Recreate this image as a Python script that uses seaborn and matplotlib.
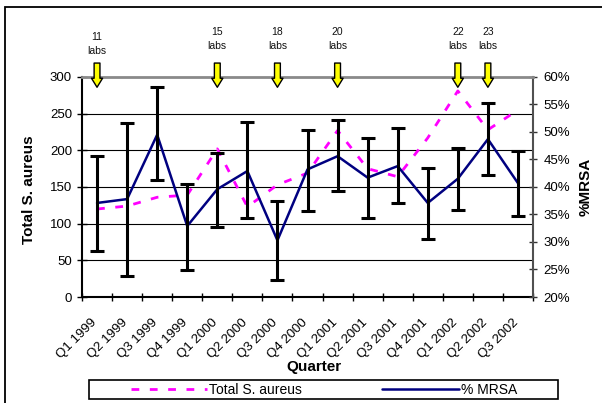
import numpy as np
import pandas as pd
import matplotlib
matplotlib.use("Agg")
import matplotlib.pyplot as plt
import matplotlib.transforms as mtransforms
from matplotlib.patches import Rectangle
from matplotlib.ticker import FixedLocator, FuncFormatter
import seaborn as sns

# ---------------- data ----------------
quarters = ["Q1 1999", "Q2 1999", "Q3 1999", "Q4 1999",
            "Q1 2000", "Q2 2000", "Q3 2000", "Q4 2000",
            "Q1 2001", "Q2 2001", "Q3 2001", "Q4 2001",
            "Q1 2002", "Q2 2002", "Q3 2002"]
total_s_aureus = [120, 124, 136, 139, 202, 123, 153, 169,
                  227, 175, 164, 217, 281, 228, 255]
pct_mrsa = [37.1, 37.8, 49.5, 32.9, 39.6, 42.9, 30.3, 43.2,
            45.6, 41.7, 43.8, 37.1, 41.5, 48.7, 40.7]
mrsa_ci_low = [28.4, 23.8, 41.3, 24.9, 32.7, 34.3, 23.0, 35.6,
               39.2, 34.4, 37.0, 30.5, 35.8, 42.2, 34.7]
mrsa_ci_high = [45.6, 51.7, 58.1, 40.5, 46.1, 51.8, 37.4, 50.4,
                52.1, 48.9, 50.7, 43.4, 47.1, 55.2, 46.6]
arrow_quarters = ["Q1 1999", "Q1 2000", "Q3 2000", "Q1 2001", "Q1 2002", "Q2 2002"]
lab_counts = [11, 15, 18, 20, 22, 23]
left_ticks = [0, 50, 100, 150, 200, 250, 300]
right_ticks = [20, 25, 30, 35, 40, 45, 50, 55, 60]

# ---------------- style ----------------
sns.set_theme(style="white")
plt.rcParams['font.family'] = ['Liberation Sans', 'DejaVu Sans']

W, H = 602, 403
fig = plt.figure(figsize=(W / 100, H / 100), dpi=100, facecolor="white")
ax = fig.add_axes([82 / W, 1 - 297 / H, (533 - 82) / W, (297 - 77) / H])
ax2 = ax.twinx()

df = pd.DataFrame({
    "pos": np.arange(len(quarters)),
    "quarter": quarters,
    "total": total_s_aureus,
    "mrsa": pct_mrsa,
    "lo": mrsa_ci_low,
    "hi": mrsa_ci_high,
})

sns.lineplot(data=df, x="pos", y="total", ax=ax, color="#FF00FF",
             linewidth=2.0, linestyle=(0, (2.8, 3.8)), legend=False)
sns.lineplot(data=df, x="pos", y="mrsa", ax=ax2, color="#000080",
             linewidth=1.8, legend=False, zorder=2)
ax2.errorbar(df["pos"], df["mrsa"],
             yerr=[df["mrsa"] - df["lo"], df["hi"] - df["mrsa"]],
             fmt="none", ecolor="black", elinewidth=2.2, capsize=4.8,
             capthick=2.2, zorder=3)

# ---------------- axes ----------------
n = len(quarters)
ax.set_xlim(-0.5, n - 0.5)
ax.set_ylim(0, 300)
ax2.set_ylim(20, 60)

ax.set_yticks(left_ticks)
ax2.set_yticks(right_ticks)
ax2.yaxis.set_major_formatter(FuncFormatter(lambda v, p: f"{v:.0f}%"))

ax.set_xticks(df["pos"])
ax.set_xticklabels(quarters, rotation=45, ha="right", va="top",
                   rotation_mode="anchor", fontsize=9.5, color="black")
ax.xaxis.set_minor_locator(FixedLocator(np.arange(-0.5, n, 1.0)))
ax.tick_params(axis="x", which="major", length=0, pad=14, bottom=True)
ax.tick_params(axis="x", which="minor", direction="inout", length=6,
               width=1, color="black", bottom=True)
for lbl in ax.get_xticklabels():
    lbl.set_transform(lbl.get_transform() +
                      mtransforms.ScaledTranslation(-6 / 100, 0, fig.dpi_scale_trans))

ax.tick_params(axis="y", direction="inout", length=7, width=1, color="black",
               left=True, labelsize=9.5, labelcolor="black", pad=3.7)
ax2.tick_params(axis="y", direction="inout", length=6, width=1, color="#333333",
                right=True, labelsize=9.5, labelcolor="black", pad=4.4)

ax.yaxis.grid(True, color="black", linewidth=0.8)
ax.xaxis.grid(False)
ax2.grid(False)
ax.set_axisbelow(True)
# the top boundary (300) is drawn by the grey frame line, not a gridline
ax.yaxis.get_gridlines()[-1].set_visible(False)

for s in ["top", "right"]:
    ax.spines[s].set_visible(False)
for s in ["left", "bottom"]:
    ax.spines[s].set_color("black")
    ax.spines[s].set_linewidth(1.5)
    ax2.spines[s].set_visible(False)
ax2.spines["top"].set_color("#8a8a8a")
ax2.spines["top"].set_linewidth(2)
ax2.spines["right"].set_color("#505050")
ax2.spines["right"].set_linewidth(1.5)

ax.set_ylabel("Total S. aureus", fontsize=11, fontweight="bold", color="black")
ax.yaxis.label.set_verticalalignment("center")
ax.yaxis.set_label_coords((29 - 82) / 451, 0.49)
ax2.set_ylabel("%MRSA", fontsize=11, fontweight="bold", color="black")
ax2.yaxis.label.set_verticalalignment("center")
ax2.yaxis.set_label_coords((586 - 82) / 451, 0.5)
ax.set_xlabel("Quarter", fontsize=11, fontweight="bold", color="black")
ax.xaxis.label.set_verticalalignment("center")
ax.xaxis.set_label_coords((314 - 82) / 451, (297 - 367) / 220)

# ---------------- arrows with lab counts ----------------
label_y = [329, 336, 336, 336, 336, 336]
for q, cnt, ly in zip(arrow_quarters, lab_counts, label_y):
    i = quarters.index(q)
    ax2.annotate("", xy=(i, 286), xytext=(i, 319), xycoords=ax.transData,
                 textcoords=ax.transData, annotation_clip=False, zorder=6,
                 arrowprops=dict(arrowstyle="simple,head_length=0.65,head_width=0.8,tail_width=0.42",
                                 mutation_scale=10, fc="#FFFF00", ec="black", lw=1,
                                 shrinkA=0, shrinkB=0))
    ax2.text(i, ly, f"{cnt}\nlabs", transform=ax.transData, ha="center", va="bottom",
             fontsize=7.5, linespacing=1.45, color="#111111", clip_on=False)

# ---------------- legend ----------------
fig.add_artist(Rectangle((89 / W, 1 - 399 / H), (558 - 89) / W, 19 / H,
                         transform=fig.transFigure, fill=False, ec="black", lw=1.2))
handles = [ax.get_lines()[0], ax2.get_lines()[0]]
fig.legend(handles, ["Total S. aureus", "% MRSA"], loc="center",
           bbox_to_anchor=(131 / W, 1 - 399 / H, (517 - 131) / W, 19 / H),
           mode="expand", ncol=2, frameon=False, borderpad=0, borderaxespad=0,
           handlelength=5.5, handletextpad=0.15, fontsize=10, labelcolor="black")

# outer chart border (top and left visible)
fig.add_artist(Rectangle((5 / W, -0.5), 2.0, 0.5 + 1 - 7 / H,
                         transform=fig.transFigure, fill=False, ec="black", lw=1.3))

fig.savefig("out.png", dpi=100, facecolor="white")
